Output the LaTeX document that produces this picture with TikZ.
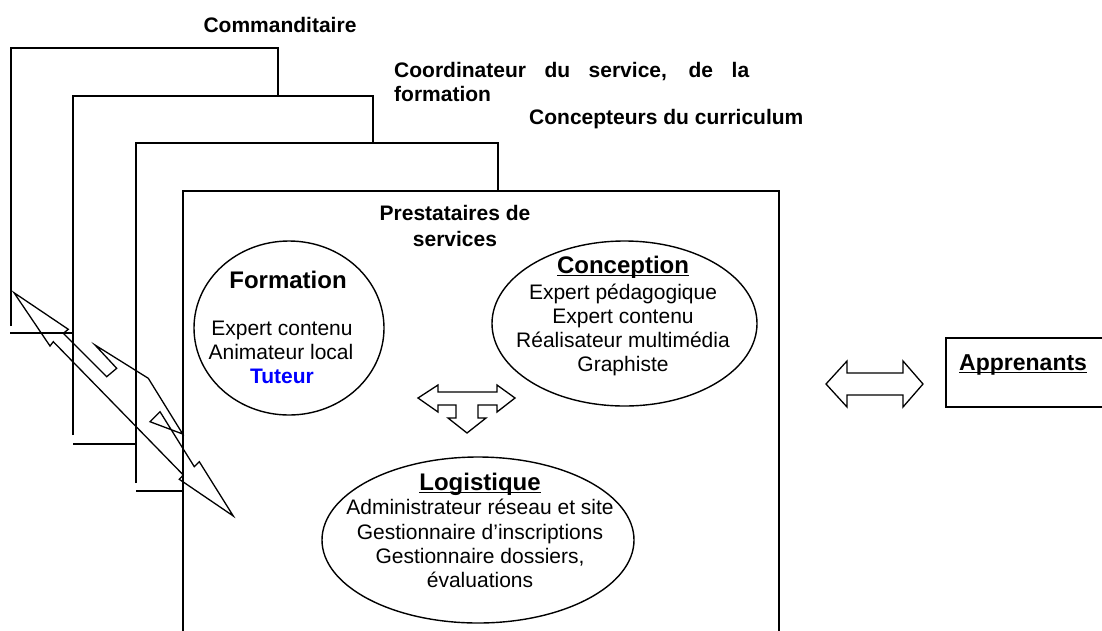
\documentclass[tikz,border=0pt]{standalone}
\usepackage{fontspec}
\setmainfont{Liberation Sans}
\usetikzlibrary{shapes.geometric}
\hyphenpenalty=10000
\exhyphenpenalty=10000
\newcommand\myul[1]{\setbox0\hbox{#1}\rlap{\rule[-3.2pt]{\wd0}{1.4pt}}\box0}
\begin{document}
\begin{tikzpicture}[x=1pt,y=-1pt,
  frame/.style={line width=1.2pt},
  frontframe/.style={line width=1.9pt},
  oval/.style={draw, ellipse, line width=1.4pt, inner sep=0pt},
  lbl/.style={font=\fontsize{21}{24}\selectfont\bfseries, inner sep=0pt, anchor=base},
  body/.style={font=\fontsize{21}{24}\selectfont, inner sep=0pt, anchor=base},
  head/.style={font=\fontsize{24}{26}\selectfont\bfseries, inner sep=0pt, anchor=base},
  fatarrow/.style={draw, line width=1.3pt, line join=miter}]
\useasboundingbox (0,0) rectangle (1102,630);
\fill[white] (0,0) rectangle (1102,630);

% stacked frames
\draw[frame] (11,326) -- (11,48) -- (278,48) -- (278,96);
\draw[frame] (10,333) -- (73,333);
\draw[frame] (73,435) -- (73,96) -- (373,96) -- (373,143);
\draw[frame] (73,444) -- (136,444);
\draw[frame] (136,483) -- (136,143) -- (498,143) -- (498,191);
\draw[frame] (136,491) -- (183,491);
\draw[frontframe] (183,632) -- (183,191) -- (779,191) -- (779,632);

% frame labels
\node[lbl] (comm) at (280,32) {Commanditaire};
\node[lbl, anchor=base west, text width=355pt, align=justify] (coord) at (394,77)
  {Coordinateur du service, de la \mbox{formation}};
\node[lbl, anchor=base west] (concep) at (529,124) {Concepteurs du curriculum};
\node[lbl] (prest1) at (455,220) {Prestataires de};
\node[lbl] (prest2) at (455,246) {services};

% ellipses
\node[oval, minimum width=190pt, minimum height=174pt] (formE) at (289,328) {};
\node[oval, minimum width=265pt, minimum height=165pt] (concE) at (624.5,323.5) {};
\node[oval, minimum width=312pt, minimum height=166pt] (logE) at (478,540) {};

% Formation text
\node[head] (formT) at (288,288) {Formation};
\node[body] (f1) at (282,335) {Expert contenu};
\node[body] (f2) at (281,359) {Animateur local};
\node[lbl, text=blue] (f3) at (282,383) {Tuteur};

% Conception text
\node[head] (concT) at (623,273) {\myul{Conception}};
\node[body] (c1) at (623,299) {Expert pédagogique};
\node[body] (c2) at (623,323) {Expert contenu};
\node[body] (c3) at (623,347) {Réalisateur multimédia};
\node[body] (c4) at (623,371) {Graphiste};

% Logistique text
\node[head] (logT) at (480,490) {\myul{Logistique}};
\node[body] (l1) at (480,514) {Administrateur réseau et site};
\node[body] (l2) at (480,539) {Gestionnaire d’inscriptions};
\node[body] (l3) at (480,563) {Gestionnaire dossiers,};
\node[body] (l4) at (480,587) {évaluations};

% Apprenants box
\draw[line width=1.5pt] (1106,338) -- (946,338) -- (946,407) -- (1106,407);
\node[head, font=\fontsize{23}{26}\selectfont\bfseries, anchor=base west] (app) at (959,370) {\myul{Apprenants}};

% left-right fat arrow
\draw[fatarrow] (826,384) -- (847,361) -- (847,373) -- (903,373) -- (903,361) -- (923,384)
  -- (903,407) -- (903,395) -- (847,395) -- (847,407) -- cycle;

% T-shaped fat arrow
\draw[fatarrow] (418,398) -- (438,385) -- (438,392) -- (497,392) -- (497,385) -- (515,398)
  -- (497,412) -- (497,405) -- (478,405) -- (478,418) -- (486,418) -- (467,433)
  -- (448,418) -- (456,418) -- (456,405) -- (438,405) -- (438,412) -- cycle;

% diagonal zigzag double arrow
\draw[fatarrow] (14,292.7) -- (68.3,329.3) -- (63.3,333.3) -- (106.7,376.7) -- (116.7,368.3)
  -- (95,345) -- (148.3,378.3) -- (182.7,434) -- (150,421.7) -- (160,411.7)
  -- (194.3,466.7) -- (199.3,461.7) -- (233.3,516) -- (179.3,479.3) -- (183.3,475)
  -- (53.3,341.7) -- (50,346) -- cycle;
\end{tikzpicture}
\end{document}
